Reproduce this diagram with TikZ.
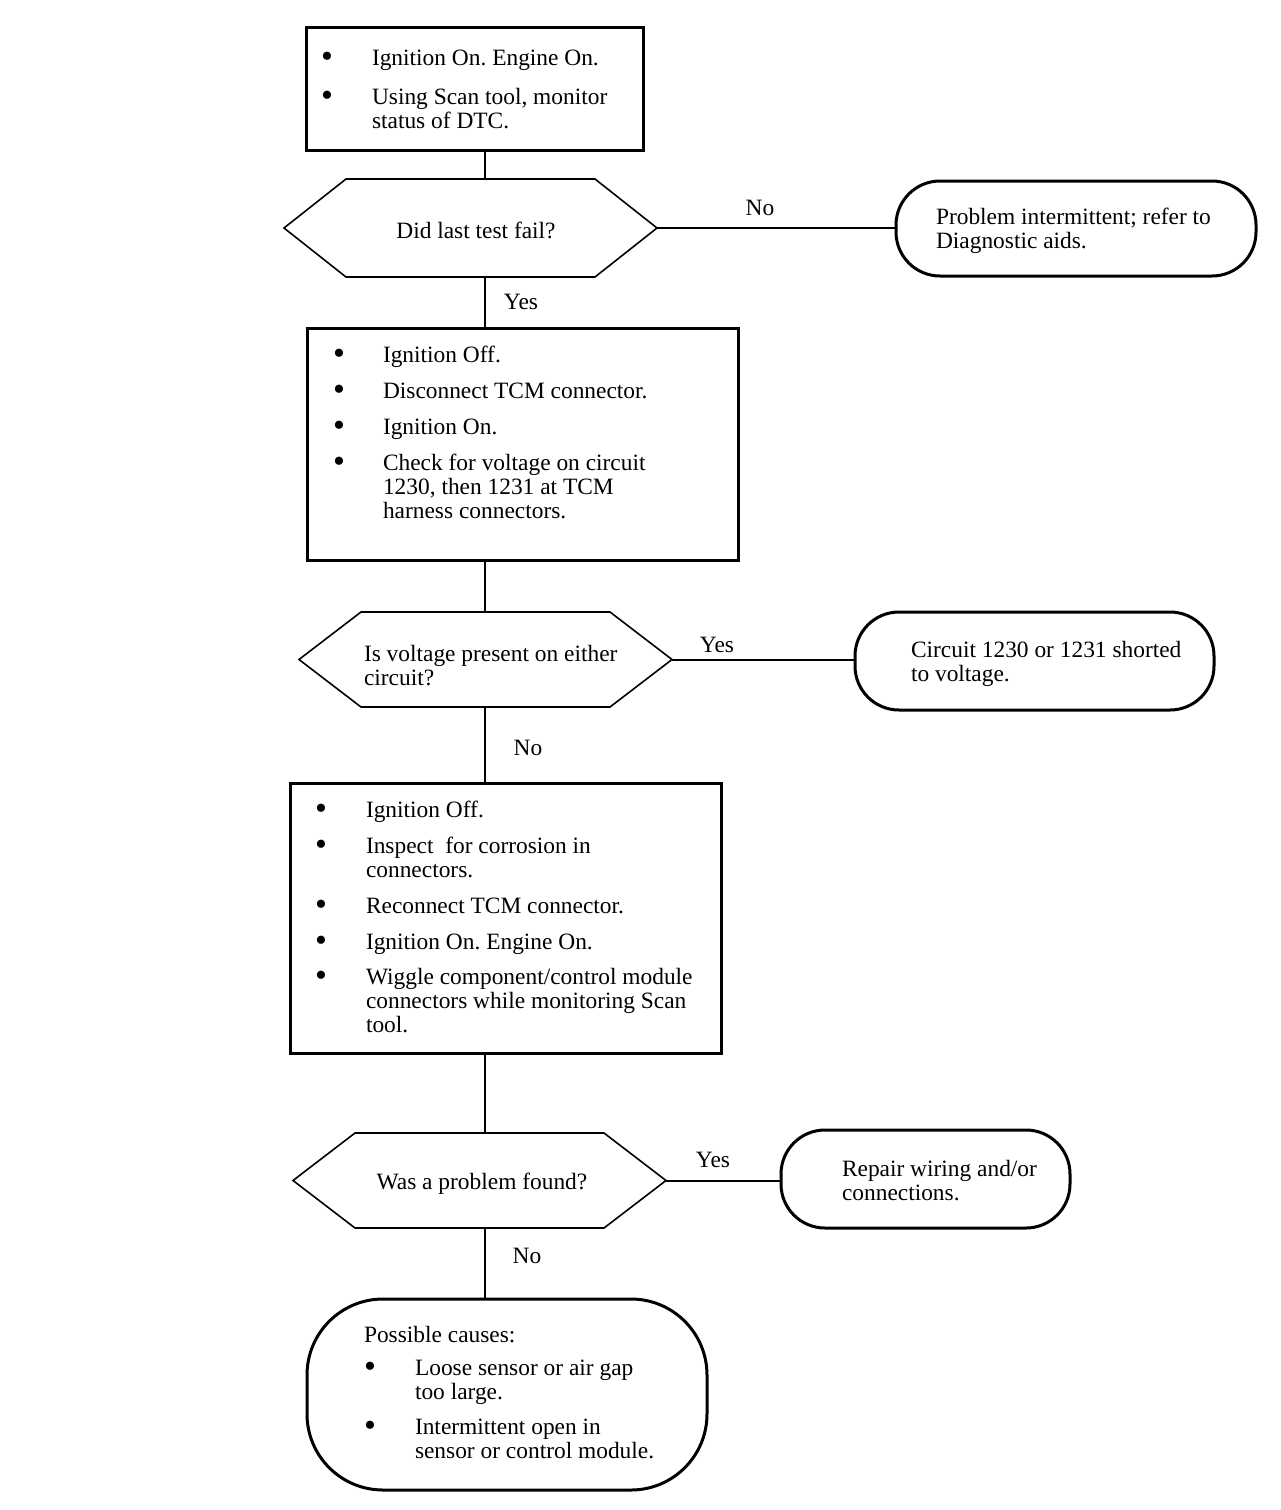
\documentclass[tikz,border=0pt]{standalone}
\usepackage{fontspec}
\setmainfont{Liberation Serif}
\frenchspacing
\newcommand\hexpath[1]{\draw[hexline] (#1.west) -- ([xshift=31pt]#1.north west) -- ([xshift=-31pt]#1.north east) -- (#1.east) -- ([xshift=-31pt]#1.south east) -- ([xshift=31pt]#1.south west) -- cycle;}
\newcommand\ml[1]{\begin{tabular}[t]{@{}l@{}}#1\end{tabular}}
\begin{document}
\begin{tikzpicture}[x=0.5pt,y=-0.5pt,
  every node/.style={inner sep=0pt,outer sep=0pt},
  boxnode/.style={draw,rectangle,line width=1.5pt},
  hexnode/.style={rectangle,draw=none},
  hexline/.style={line width=0.8pt,line join=miter},
  termnode/.style={draw,rectangle,line width=1.5pt,rounded corners=22pt},
  conn/.style={line width=1pt},
  txt/.style={font=\fontsize{11.7}{12}\selectfont\frenchspacing,anchor=base west},
  bul/.style={font=\fontsize{17}{12}\selectfont,anchor=base},
  lbl/.style={font=\fontsize{11.7}{12}\selectfont,anchor=base}]
\useasboundingbox (0,0) rectangle (1280,1510);
\coordinate (sp) at (484.5,0);

% shapes
\node[boxnode,minimum width=168.5pt,minimum height=61.5pt] (b1) at (474.5,88.5) {};
\node[hexnode,minimum width=186.5pt,minimum height=49pt] (q1) at (470.5,228) {};
\node[termnode,minimum width=180pt,minimum height=47.5pt] (t1) at (1076,228.5) {};
\node[boxnode,minimum width=215.5pt,minimum height=116pt] (b2) at (522.5,444) {};
\node[hexnode,minimum width=186.5pt,minimum height=47.5pt] (q2) at (485.5,659.5) {};
\node[termnode,minimum width=179.5pt,minimum height=49pt] (t2) at (1034.5,661) {};
\node[boxnode,minimum width=215.5pt,minimum height=135pt] (b3) at (505.5,918) {};
\node[hexnode,minimum width=186.5pt,minimum height=47.5pt] (q3) at (479.5,1180.5) {};
\node[termnode,minimum width=144.5pt,minimum height=49pt] (t3) at (925.5,1179) {};
\node[termnode,rounded corners=38pt,minimum width=200pt,minimum height=95.5pt] (t4) at (507,1394.5) {};
\hexpath{q1}
\hexpath{q2}
\hexpath{q3}

% connectors
\draw[conn] (b1.south -| sp) -- (q1.north -| sp);
\draw[conn] (q1.south -| sp) -- (b2.north -| sp);
\draw[conn] (b2.south -| sp) -- (q2.north -| sp);
\draw[conn] (q2.south -| sp) -- (b3.north -| sp);
\draw[conn] (b3.south -| sp) -- (q3.north -| sp);
\draw[conn] (q3.south -| sp) -- (t4.north -| sp);
\draw[conn] (q1.east) -- (t1.west |- q1.east);
\draw[conn] (q2.east) -- (t2.west |- q2.east);
\draw[conn] (q3.east) -- (t3.west |- q3.east);

% labels
\node[lbl] (l1) at (760,215) {No};
\node[lbl] (l2) at (521,309) {Yes};
\node[lbl] (l3) at (717,652) {Yes};
\node[lbl] (l4) at (528,755) {No};
\node[lbl] (l5) at (713,1167) {Yes};
\node[lbl] (l6) at (527,1263) {No};

% box 1
\node[bul] (b1d1) at (327,67) {\textbullet};
\node[txt] (b1t1) at (372,65) {Ignition On. Engine On.};
\node[bul] (b1d2) at (327,106) {\textbullet};
\node[txt] (b1t2) at (372,104) {\ml{Using Scan tool, monitor\\status of DTC.}};

% hex 1
\node[lbl] (q1t) at (476,238) {Did last test fail?};

% term 1
\node[txt] (t1t) at (936,224) {\ml{Problem intermittent; refer to\\Diagnostic aids.}};

% box 2
\node[bul] (b2d1) at (339,364) {\textbullet};
\node[txt] (b2t1) at (383,362) {Ignition Off.};
\node[bul] (b2d2) at (339,400) {\textbullet};
\node[txt] (b2t2) at (383,398) {Disconnect TCM connector.};
\node[bul] (b2d3) at (339,436) {\textbullet};
\node[txt] (b2t3) at (383,434) {Ignition On.};
\node[bul] (b2d4) at (339,472) {\textbullet};
\node[txt] (b2t4) at (383,470) {\ml{Check for voltage on circuit\\1230, then 1231 at TCM\\harness connectors.}};

% hex 2
\node[txt] (q2t) at (364,661) {\ml{Is voltage present on either\\circuit?}};

% term 2
\node[txt] (t2t) at (911,657) {\ml{Circuit 1230 or 1231 shorted\\to voltage.}};

% box 3
\node[bul] (b3d1) at (321,819) {\textbullet};
\node[txt] (b3t1) at (366,817) {Ignition Off.};
\node[bul] (b3d2) at (321,855) {\textbullet};
\node[txt] (b3t2) at (366,853) {\ml{Inspect\ \ for corrosion in\\connectors.}};
\node[bul] (b3d3) at (321,915) {\textbullet};
\node[txt] (b3t3) at (366,913) {Reconnect TCM connector.};
\node[bul] (b3d4) at (321,951) {\textbullet};
\node[txt] (b3t4) at (366,949) {Ignition On. Engine On.};
\node[bul] (b3d5) at (321,986) {\textbullet};
\node[txt] (b3t5) at (366,984) {\ml{Wiggle component/control module\\connectors while monitoring Scan\\tool.}};

% hex 3
\node[lbl] (q3t) at (482,1189) {Was a problem found?};

% term 3
\node[txt] (t3t) at (842,1176) {\ml{Repair wiring and/or\\connections.}};

% term 4
\node[txt] (t4t0) at (364,1342) {Possible causes:};
\node[bul] (t4d1) at (370,1377) {\textbullet};
\node[txt] (t4t1) at (415,1375) {\ml{Loose sensor or air gap\\too large.}};
\node[bul] (t4d2) at (370,1436) {\textbullet};
\node[txt] (t4t2) at (415,1434) {\ml{Intermittent open in\\sensor or control module.}};
\end{tikzpicture}
\end{document}
